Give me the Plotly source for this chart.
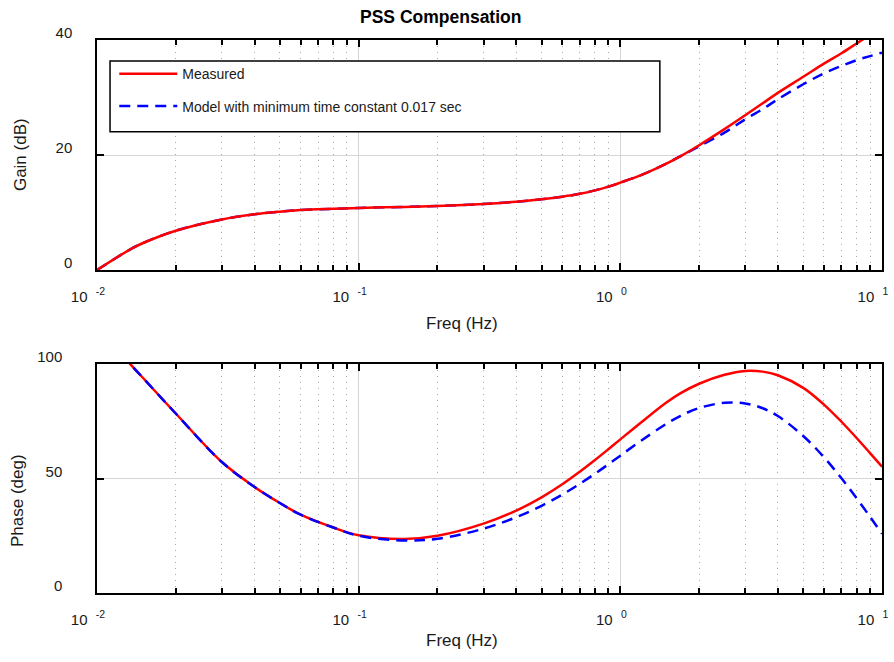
import plotly.graph_objects as go

# ---- data ----
freq = [0.01, 0.0134, 0.015, 0.02, 0.03, 0.04, 0.05, 0.06, 0.08, 0.1, 0.15, 0.2,
        0.3, 0.4, 0.5, 0.6, 0.7, 0.8, 0.9, 1.0, 1.2, 1.5, 1.7, 2.0, 2.5, 3.0, 3.5,
        4.0, 5.0, 6.0, 7.0, 8.0, 9.0, 10.0]
gain_measured = [0.0, 3.6, 4.7, 6.84, 8.8, 9.7, 10.15, 10.42, 10.65, 10.8, 10.98, 11.13,
                 11.48, 11.88, 12.3, 12.75, 13.25, 13.85, 14.5, 15.2, 16.5, 18.5, 19.8,
                 21.7, 24.5, 26.9, 29.0, 30.8, 33.6, 35.9, 37.7, 39.4, 40.9, 42.2]
gain_model = [0.0, 3.6, 4.7, 6.84, 8.8, 9.7, 10.15, 10.42, 10.65, 10.8, 10.98, 11.13,
              11.48, 11.88, 12.3, 12.75, 13.25, 13.85, 14.5, 15.2, 16.5, 18.5, 19.8,
              21.5, 23.9, 26.2, 28.0, 29.7, 32.3, 34.2, 35.5, 36.5, 37.2, 37.8]
phase_measured = [115.9, 100.0, 93.9, 78.4, 57.2, 46.3, 39.3, 34.2, 28.6, 25.2, 23.6, 25.0,
                  30.3, 36.0, 41.8, 47.5, 53.0, 58.1, 62.8, 67.1, 74.5, 83.2, 87.3,
                  91.4, 95.3, 97.0, 96.7, 95.1, 89.6, 82.3, 74.8, 67.7, 61.1, 55.2]
phase_model = [115.9, 100.0, 93.9, 78.4, 57.2, 46.3, 39.3, 34.2, 28.6, 25.0, 22.9, 23.7,
               28.1, 33.1, 38.1, 43.0, 47.7, 52.1, 56.2, 60.0, 66.5, 73.9, 77.4,
               80.8, 83.1, 82.8, 80.7, 77.3, 68.6, 59.3, 50.1, 41.4, 33.3, 25.9]

x_tickvals = [0.01, 0.1, 1, 10]
x_ticktext = ["10\u00a0\u00a0<sup>-2</sup>", "10\u00a0\u00a0<sup>-1</sup>",
              "10\u00a0\u00a0<sup>0</sup>", "10\u00a0\u00a0<sup>1</sup>"]
minor_vals = [m * d for d in (0.01, 0.1, 1) for m in range(2, 10)]
gain_ticks = [0, 20, 40]
phase_ticks = [0, 50, 100]

name_measured = "Measured"
name_model = "Model with minimum time constant 0.017 sec"
title_text = "PSS Compensation"
x_title = "Freq (Hz)"
gain_title = "Gain (dB)"
phase_title = "Phase (deg)"

RED = "#ff0000"
BLUE = "#0000ff"
FONT = "Liberation Sans, Arial, sans-serif"
TXT = "#1a1a1a"

fig = go.Figure()

# top: gain (model drawn under measured)
fig.add_trace(go.Scatter(x=freq, y=gain_model, mode="lines", name=name_model,
                         line=dict(color=BLUE, width=2.5, dash="11px,7px", shape="spline"),
                         xaxis="x", yaxis="y", legendgroup="b", legendrank=2))
fig.add_trace(go.Scatter(x=freq, y=gain_measured, mode="lines", name=name_measured,
                         line=dict(color=RED, width=2.5, shape="spline"),
                         xaxis="x", yaxis="y", legendgroup="a", legendrank=1))
# bottom: phase (model drawn above measured)
fig.add_trace(go.Scatter(x=freq, y=phase_measured, mode="lines", name=name_measured,
                         line=dict(color=RED, width=2.5, shape="spline"),
                         xaxis="x2", yaxis="y2", showlegend=False))
fig.add_trace(go.Scatter(x=freq, y=phase_model, mode="lines", name=name_model,
                         line=dict(color=BLUE, width=2.5, dash="11px,7px", shape="spline"),
                         xaxis="x2", yaxis="y2", showlegend=False))

xaxis_common = dict(
    type="log", range=[-2, 1], tickvals=x_tickvals, ticktext=x_ticktext,
    showline=True, linecolor="black", linewidth=1.5, mirror="allticks",
    ticks="inside", ticklen=7, tickcolor="black", tickwidth=1.5,
    showgrid=True, gridcolor="#d6d6d6", gridwidth=1,
    tickfont=dict(size=15, color=TXT, family=FONT),
    ticklabelstandoff=12, ticklabelshift=-9,
    zeroline=False, automargin=False,
    minor=dict(tickvals=minor_vals, ticks="inside", ticklen=5, tickcolor="black",
               showgrid=True, gridcolor="#a8a8a8", griddash="1px,5px", gridwidth=1),
)
yaxis_common = dict(
    showline=True, linecolor="black", linewidth=1.5, mirror="allticks",
    ticks="inside", ticklen=7, tickcolor="black", tickwidth=1.5,
    showgrid=True, gridcolor="#d6d6d6", gridwidth=1,
    tickfont=dict(size=15, color=TXT, family=FONT),
    ticklabelshift=-7,
    zeroline=False, automargin=False,
)

fig.update_layout(
    width=894, height=662,
    margin=dict(l=97, r=12, t=40, b=69),
    paper_bgcolor="white", plot_bgcolor="white",
    font=dict(family=FONT, color=TXT),
    title=dict(text="<b>" + title_text + "</b>", x=0.493, xref="container", xanchor="center",
               y=0.974, yanchor="middle", font=dict(size=17.5, color="black", family=FONT)),
    xaxis=dict(xaxis_common, domain=[0, 1], anchor="y"),
    yaxis=dict(yaxis_common, domain=[0.584, 1], anchor="x", range=[0, 40],
               tickvals=gain_ticks, ticklabelstandoff=20),
    xaxis2=dict(xaxis_common, domain=[0, 1], anchor="y2"),
    yaxis2=dict(yaxis_common, domain=[0, 0.414], anchor="x2", range=[0, 100],
                tickvals=phase_ticks, ticklabelstandoff=30),
    showlegend=True,
    legend=dict(x=0.022, y=0.967, xanchor="left", yanchor="top",
                bgcolor="rgba(0,0,0,0)", borderwidth=0,
                font=dict(size=14, color=TXT, family=FONT),
                itemwidth=58, tracegroupgap=11, traceorder="grouped"),
    shapes=[dict(type="rect", xref="paper", yref="paper",
                 x0=0.0166, x1=0.717, y0=0.834, y1=0.962,
                 line=dict(color="black", width=1.5), fillcolor="white", layer="above")],
    annotations=[
        dict(text=x_title, xref="paper", yref="paper", x=0.465, y=0.488,
             xanchor="center", yanchor="middle", showarrow=False,
             font=dict(size=17, color=TXT, family=FONT)),
        dict(text=x_title, xref="paper", yref="paper", x=0.465, y=-0.085,
             xanchor="center", yanchor="middle", showarrow=False,
             font=dict(size=17, color=TXT, family=FONT)),
        dict(text=gain_title, xref="paper", yref="paper", x=-0.098, y=0.792,
             xanchor="center", yanchor="middle", showarrow=False, textangle=-90,
             font=dict(size=17, color=TXT, family=FONT)),
        dict(text=phase_title, xref="paper", yref="paper", x=-0.102, y=0.168,
             xanchor="center", yanchor="middle", showarrow=False, textangle=-90,
             font=dict(size=17, color=TXT, family=FONT)),
    ],
)

fig.write_html("out.html")
